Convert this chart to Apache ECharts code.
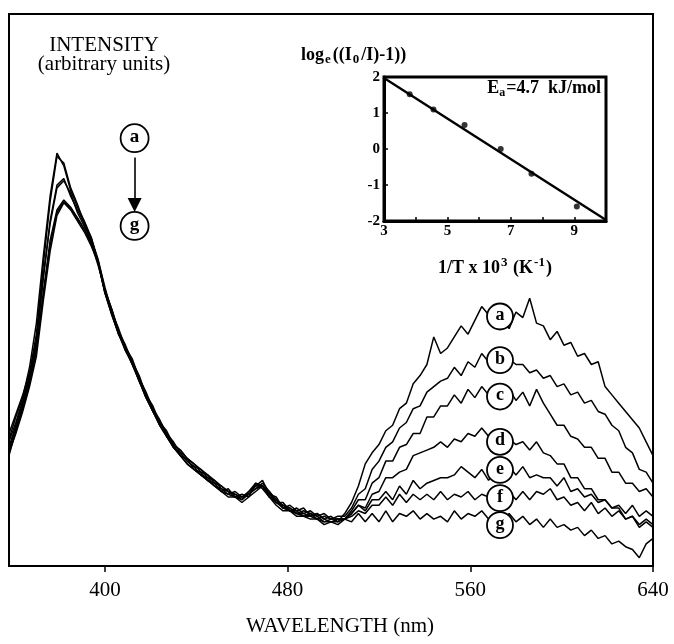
<!DOCTYPE html>
<html><head><meta charset="utf-8">
<script src="https://cdn.jsdelivr.net/npm/echarts@6/dist/echarts.min.js"></script>
<style>html,body{margin:0;padding:0;background:#fff}#c{width:674px;height:644px}</style>
</head><body><div id="c"></div>
<script>
// ---------- DATA ----------
const wavelength = [358,361,364,367,370,373,376,379,382,385,388,391,394,397,400,403,406,409,412,415,418,421,424,427,430,433,436,439,442,445,448,451,454,457,460,463,466,469,472,475,478,481,484,487,490,493,496,499,502,505,508,511,514,517,520,523,526,529,532,535,538,541,544,547,550,553,556,559,562,565,568,571,574,577,580,583,586,589,592,595,598,601,604,607,610,613,616,619,622,625,628,631,634,637,640];

const curveA = [23,27,30.5,36,44,56,67,74.8,72.5,68,65,62.5,59.5,55.5,
 50,46.5,42.5,40,37,34.5,31,29,26,24.5,22,21,19.5,18.5,17,16.5,15,14.5,13.5,13,12,13.5,14.5,15.5,13,12.5,10.5,11,10,10.5,9,9.5,8.5,9,8,9.5,
 11.5,14.5,18.5,20.5,22,24.5,25.5,28.5,29.5,33,34.5,36.5,41.5,38.5,39.5,41.5,43.5,42,44.5,47,45.5,46,45,43,46,45,48.5,44,43.5,41,42.5,40,40.5,38,38.5,36.5,37,32.5,31,29.5,28,26.5,25,22.5,20];
const curveB = [24,27.5,31,35,42,54.5,66,74.2,73,68.5,65.5,62,59.5,55,
 49.5,46,43,39.5,37.5,34,31.5,28.5,26.5,24,22.5,20.5,19,18,17.5,16,15.5,14,13.5,12.5,13,12.5,15,14.5,13.5,11.5,11.5,10,10.5,9.5,10,9,9.5,8.5,9,9,
 10.5,13,14,17.5,19,21.5,22.5,25,26,28.5,29,31.5,32.5,33.5,34,36,34.5,37,36,38.5,37,38.5,37,37.5,36.5,36.5,35,35.5,34,34.5,32.5,33,31,31.5,29.5,30,28,27.5,25.5,24.5,21.5,20.5,17.5,17,15];
const curveC = [21.5,25.5,29.5,34,40.5,52,62.5,69,70.2,67,64.5,62,59,55.5,
 50.5,46,42,39.5,36.5,34,30.5,28.5,25.5,24,21.5,20.5,19,18,16.5,16,14.5,14,13,13.5,12.5,13,14,15,13.5,12,11,10.5,9.5,10,9.5,8.5,9,8.5,8.5,8.5,
 10,12,12,15,16,19,19,21.5,22,24,24,27,27,29,29,31,29.5,32,30.5,32.5,31,32,30.5,32,30,31.5,29,32,29.5,27.5,25.5,25.5,23.5,23,21.5,21.5,19.5,19.5,17,17,15,15,13.5,14,12.5];
const curveD = [22.5,26,30,34.5,41,52.5,62,68.5,69.8,67.5,64,61.5,59,55,
 50,46.5,42.5,39,37,33.5,31,28,26,23.5,22,20,19.5,17.5,17,15.5,15,13.5,14,12.5,12.5,13.5,15,14,12.5,12,10.5,10.5,9.5,9.5,9,9.5,8.5,8,8.5,8.5,
 9.5,11,10.5,13,13.5,16,16,17,17.5,20,20.5,21,21.5,22.5,21.5,23,22.5,24,23.5,25,23.5,24,22.5,23,22,22.5,21,22.5,20.5,20,18.5,18.5,16,16,14,14,12,12,10.5,10.5,8.5,9,7,8,7];
const curveE = [20,24.5,28.5,33,39,49.5,59,64.5,66.3,65,63,61,58.5,55,
 49.5,45.5,42,39.5,37,34,31,28.5,26,24,22,21,19.5,18.5,17.5,16.5,15.5,14.5,13.5,13,12.5,13,14.5,14.5,13,11.5,11,10,10,9,9.5,9,8,8.5,8.5,8.5,
 9.5,11,10,12,12,13.5,12,14.5,13,15.5,14,15,15.5,16,16,16.5,18,17,16,17.5,15.5,17.5,16,18,16.5,18,16,16.5,16,16,14.5,16,13.5,14,12.5,13,11.5,12,10.5,11,9.5,11,9,10,9];
const curveF = [21,25,29,33.5,39.5,49,58,64,66,64.8,63,61,58.5,54.5,
 50,46,42.5,39.5,36.5,33.5,30.5,28,25.5,23.5,21.5,20,18.5,17.5,16.5,15.5,14.5,13.5,13,12.5,12,13,14,14.5,12.5,11.5,10.5,10,9.5,9,9,8.5,8,8,8,8.5,
 9,10,9.5,11,11,12.5,11,13,11.5,13,12,13,12,13.5,12,13,12.5,13.5,12,13,12.5,13.5,12,13.5,12,13.5,12,13.5,13,14,12,12.5,11,11.5,10,11.5,9.5,10.5,9,10,8.5,9,7.5,8.5,7.5];
const curveG = [20.5,24,28,32.5,38,48,57,63.5,65.8,64.5,62.5,60.5,58,55,
 49.5,45.5,42,39,36.5,33.5,30.5,28,25.5,23.5,21.5,20,18.5,17.5,16.5,15.5,14.5,13.5,12.5,12.5,11.5,12.5,13.5,14.5,12.5,11,10,10,9,9,8.5,8.5,7.5,8,7.5,8.5,
 8,9.5,8,9.5,8,10,8,9.5,9,10,8.5,9.5,8.5,9,8,10,8.5,9.5,9,10,8.5,9.5,8,9.5,8,9,7.5,8.5,7,8.5,7,7.5,6.5,7,5.5,6.5,5,5.5,4,4.5,3.5,3,1.5,4,5];

const curveNames = ['a','b','c','d','e','f','g'];
const curves = [curveA, curveB, curveC, curveD, curveE, curveF, curveG];

// curve tags (circled letters) placed in data units
const tagWavelength = 573;
const tagIntensity = [45.2, 37.3, 30.7, 22.5, 17.4, 12.3, 7.4];
// "a -> g" legend marker near the blue peak
const legendWavelength = 413;
const legendIntensity = [77.5, 61.6];
const legendArrow = [74.0, 65.4];

// x-axis ticks
const xTickValues = [400, 480, 560, 640];

// inset (Arrhenius plot)
const insetX = [3.81, 4.56, 5.54, 6.68, 7.65, 9.08];
const insetY = [1.52, 1.1, 0.67, 0.0, -0.69, -1.6];
const fitX = [3, 10];
const fitY = [1.97, -1.97];
const insetXLabels = [3, 5, 7, 9];
// ---------- CHART ----------
const SERIF = 'Liberation Serif';
const chart = echarts.init(document.getElementById('c'), null, {renderer:'canvas'});

const series = curves.map((c, i) => ({
  name: curveNames[i], type: 'line', xAxisIndex: 0, yAxisIndex: 0,
  data: wavelength.map((w, j) => [w, c[j]]),
  showSymbol: false, symbol: 'none', smooth: false,
  lineStyle: {color: '#000', width: 1.5}, z: 2, silent: true
}));

series.push({
  type: 'scatter', xAxisIndex: 0, yAxisIndex: 0, z: 5, silent: true,
  data: curveNames.map((n, i) => [tagWavelength, tagIntensity[i], n]),
  symbol: 'circle', symbolSize: 26,
  itemStyle: {color: '#fff', borderColor: '#000', borderWidth: 1.8, opacity: 1},
  label: {show: true, position: 'inside', formatter: p => p.value[2], color: '#000',
    fontFamily: SERIF, fontWeight: 'bold', fontSize: 18, offset:[0,-1]}
});

series.push({
  type: 'scatter', xAxisIndex: 0, yAxisIndex: 0, z: 5, silent: true,
  data: [[legendWavelength, legendIntensity[0], 'a'], [legendWavelength, legendIntensity[1], 'g']],
  symbol: 'circle', symbolSize: 28,
  itemStyle: {color: '#fff', borderColor: '#000', borderWidth: 1.8, opacity: 1},
  label: {show: true, position: 'inside', formatter: p => p.value[2], color: '#000',
    fontFamily: SERIF, fontWeight: 'bold', fontSize: 19, offset:[0,-1]},
  markLine: {
    silent: true, symbol: ['none', 'triangle'], symbolSize: 14,
    lineStyle: {color: '#000', width: 1.6, type: 'solid'}, label: {show: false},
    data: [[{coord: [legendWavelength, legendArrow[0]]}, {coord: [legendWavelength, legendArrow[1]]}]]
  }
});

series.push({
  type: 'line', xAxisIndex: 1, yAxisIndex: 1, silent: true, z: 12,
  data: fitX.map((x, i) => [x, fitY[i]]), showSymbol: false,
  lineStyle: {color: '#000', width: 2.4}
});
series.push({
  type: 'scatter', xAxisIndex: 1, yAxisIndex: 1, silent: true, z: 13,
  data: insetX.map((x, i) => [x, insetY[i]]), symbol: 'circle', symbolSize: 6,
  itemStyle: {color: '#000'}
});

const option = {
  animation: false,
  backgroundColor: '#fff',
  grid: [
    {left: 9, right: 21, top: 14, bottom: 78, show: true, borderColor: '#000', borderWidth: 2, backgroundColor: 'rgba(0,0,0,0)'},
    {left: 384, top: 77, width: 222, height: 144, show: true, borderColor: '#000', borderWidth: 3, backgroundColor: '#fff'}
  ],
  xAxis: [
    {gridIndex: 0, type: 'value', min: 358, max: 640,
     axisLine: {show: true, onZero: false, lineStyle: {color: '#000', width: 2}},
     axisTick: {show: true, inside: false, length: 6, customValues: xTickValues, lineStyle: {color: '#000', width: 1.5}},
     axisLabel: {show: true, customValues: xTickValues, color: '#000', fontFamily: SERIF, fontSize: 21, margin: 14},
     splitLine: {show: false}},
    {gridIndex: 1, type: 'value', min: 3, max: 10, interval: 1,
     axisLine: {show: true, onZero: false, lineStyle: {color: '#000', width: 3}},
     axisTick: {show: true, inside: true, length: 4, lineStyle: {color: '#000', width: 1.5}},
     axisLabel: {show: true, formatter: v => insetXLabels.includes(v) ? String(v) : '', color: '#000',
       fontFamily: SERIF, fontWeight: 'bold', fontSize: 15, margin: 3},
     splitLine: {show: false}}
  ],
  yAxis: [
    {gridIndex: 0, type: 'value', min: 0, max: 100,
     axisLine: {show: false}, axisTick: {show: false}, axisLabel: {show: false}, splitLine: {show: false}},
    {gridIndex: 1, type: 'value', min: -2, max: 2, interval: 1,
     axisLine: {show: true, onZero: false, lineStyle: {color: '#000', width: 3}},
     axisTick: {show: true, inside: true, length: 4, lineStyle: {color: '#000', width: 1.5}},
     axisLabel: {show: true, color: '#000', fontFamily: SERIF, fontWeight: 'bold', fontSize: 15, margin: 4},
     splitLine: {show: false}}
  ],
  graphic: [
    {type: 'text', x: 104, y: 45, silent: true, style: {text: 'INTENSITY', fill: '#000',
      font: '21px "Liberation Serif"', textAlign: 'center', textVerticalAlign: 'middle'}},
    {type: 'text', x: 104, y: 64, silent: true, style: {text: '(arbitrary units)', fill: '#000',
      font: '21px "Liberation Serif"', textAlign: 'center', textVerticalAlign: 'middle'}},
    {type: 'text', x: 340, y: 626, silent: true, style: {text: 'WAVELENGTH (nm)', fill: '#000',
      font: '21px "Liberation Serif"', textAlign: 'center', textVerticalAlign: 'middle'}},
    {type: 'text', x: 301, y: 55, silent: true, z: 20, style: {
      text: '{n|log}{s|e}{n|((I}{s|0}{n|/I)-1))}', textAlign: 'left', textVerticalAlign: 'middle',
      rich: {n: {fontFamily: SERIF, fontWeight: 'bold', fontSize: 18, fill: '#000', lineHeight: 24},
             s: {fontFamily: SERIF, fontWeight: 'bold', fontSize: 13, fill: '#000', padding: [10, 2, 0, 1], lineHeight: 24}}}},
    {type: 'text', x: 601, y: 88, silent: true, z: 20, style: {
      text: '{n|E}{s|a}{n|=4.7  kJ/mol}', textAlign: 'right', textVerticalAlign: 'middle',
      rich: {n: {fontFamily: SERIF, fontWeight: 'bold', fontSize: 18, fill: '#000', lineHeight: 24},
             s: {fontFamily: SERIF, fontWeight: 'bold', fontSize: 12, fill: '#000', padding: [9, 1, 0, 0], lineHeight: 24}}}},
    {type: 'text', x: 495, y: 268, silent: true, z: 20, style: {
      text: '{n|1/T x 10}{p|3}{n| (K}{p|-1}{n|)}', textAlign: 'center', textVerticalAlign: 'middle',
      rich: {n: {fontFamily: SERIF, fontWeight: 'bold', fontSize: 18, fill: '#000', lineHeight: 24},
             p: {fontFamily: SERIF, fontWeight: 'bold', fontSize: 13, fill: '#000', padding: [0, 1, 11, 1], lineHeight: 24}}}}
  ],
  series: series
};
chart.setOption(option);
</script>
</body></html>
